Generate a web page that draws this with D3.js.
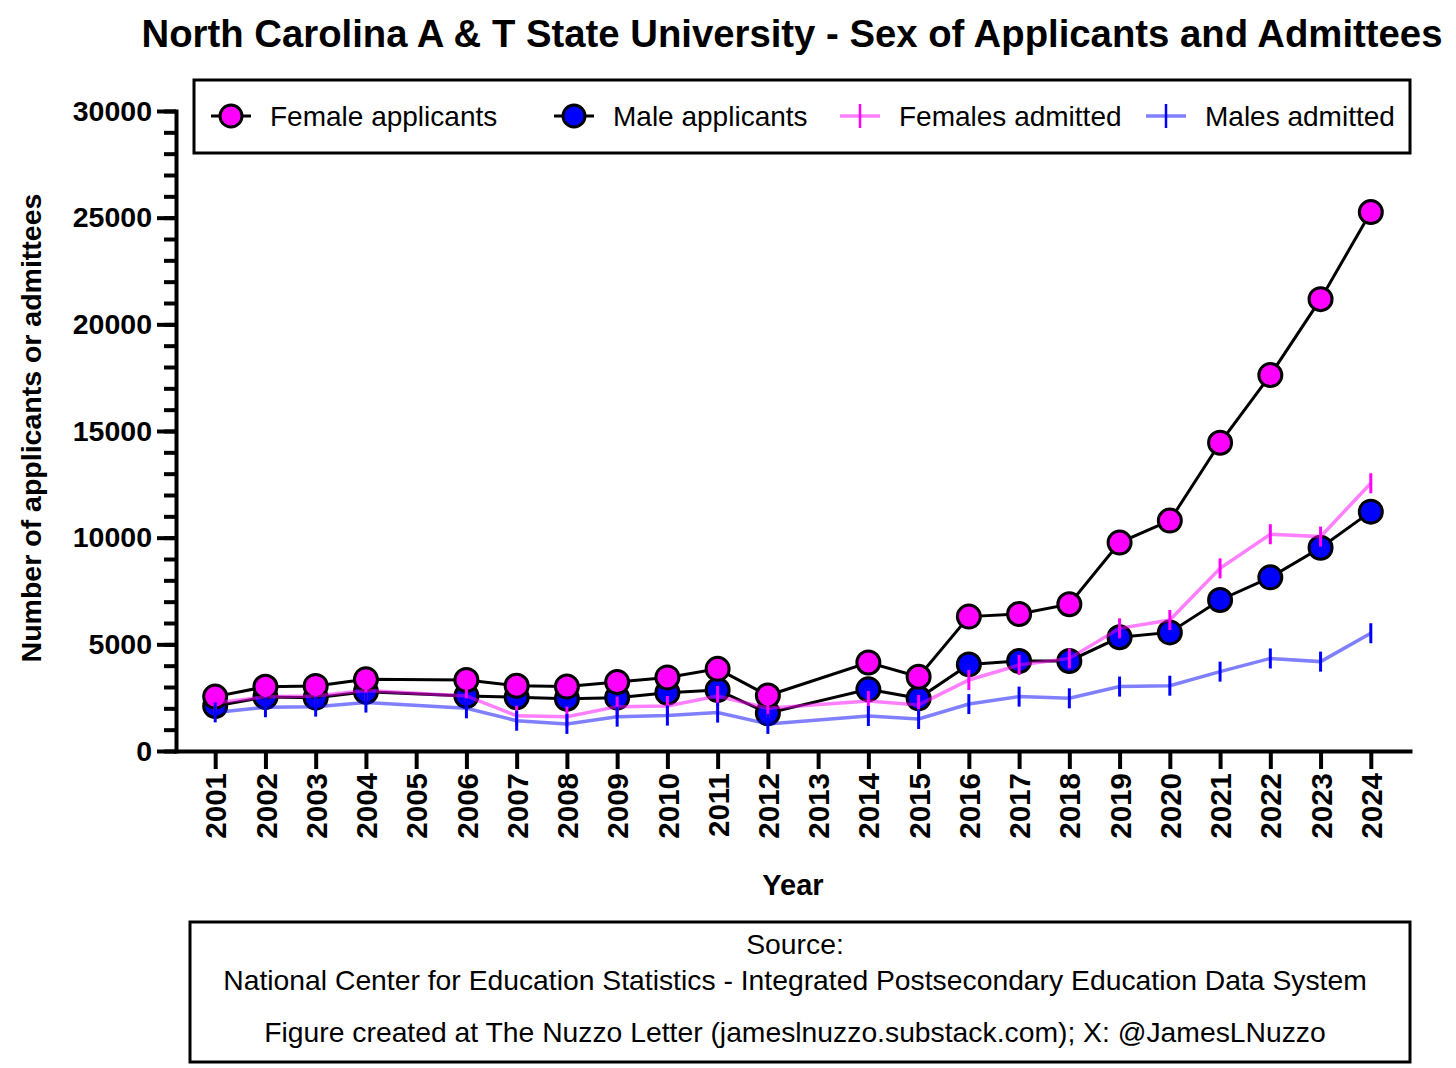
<!DOCTYPE html>
<meta charset="utf-8">
<html>
<style>
 body { margin:0; background:#fff; }
 svg { display:block; font-family: "Liberation Sans", Arial, sans-serif; }
</style>
<script src="https://d3js.org/d3.v7.min.js"></script>
<svg width="1456" height="1068"></svg>
<script>
// values; null = year not reported
const years = [2001,2002,2003,2004,2005,2006,2007,2008,2009,2010,2011,2012,
               2013,2014,2015,2016,2017,2018,2019,2020,2021,2022,2023,2024];
const femaleApplicants = [2550,3010,3050,3360,null,3330,3060,3020,3230,3450,3850,2600,
                          null,4150,3480,6300,6420,6880,9770,10800,14450,17620,21180,25260];
const maleApplicants   = [2110,2530,2500,2780,null,2580,2520,2450,2500,2730,2860,1770,
                          null,2890,2470,4060,4220,4220,5330,5560,7080,8140,9530,11220];
const femalesAdmitted  = [2250,2540,2580,2830,null,2580,1650,1610,2080,2110,2580,2000,
                          null,2340,2160,3330,4030,4340,5750,6140,8560,10160,10050,12550];
const malesAdmitted    = [1810,2050,2080,2270,null,2000,1420,1270,1610,1660,1800,1270,
                          null,1640,1500,2200,2550,2470,3020,3060,3720,4340,4190,5520];
const yMajorTicks = [0,5000,10000,15000,20000,25000,30000];
const yMinorTicks = d3.range(0, 30001, 1000);

const svg = d3.select('svg');

const x = d3.scalePoint()
	.domain(years)
	.range([176,1410])
	.padding(0.78);
const y = d3.scaleLinear()
	.domain([0,30000])
	.range([751,111]);

// title
svg.append('text')
	.attr('x',792)
	.attr('y',47)
	.attr('text-anchor','middle')
	.attr('font-size',38.3)
	.attr('font-weight','bold')
	.text('North Carolina A & T State University - Sex of Applicants and Admittees');

// axes
const minorAxis = d3.axisLeft(y).tickValues(yMinorTicks).tickSize(12).tickSizeOuter(0).tickFormat('');
svg.append('g')
	.attr('transform','translate(176,0)')
	.call(minorAxis)
	.call(g=>g.select('.domain').remove())
	.call(g=>g.selectAll('line').attr('stroke-width',4));

const yAxis = d3.axisLeft(y).tickValues(yMajorTicks).tickSize(19).tickSizeOuter(0)
	.tickPadding(5).tickFormat(d3.format('d'));
svg.append('g')
	.attr('transform','translate(176,0)')
	.call(yAxis)
	.call(g=>g.select('.domain').attr('stroke-width',4).attr('stroke-linecap','square'))
	.call(g=>g.selectAll('line').attr('stroke-width',4))
	.call(g=>g.selectAll('text')
		.attr('font-size',28.5)
		.attr('font-weight','bold')
		.attr('font-family','"Liberation Sans", Arial, sans-serif')
		.attr('fill','#000'));

const xAxis = d3.axisBottom(x).tickSize(18).tickSizeOuter(0);
svg.append('g')
	.attr('transform','translate(0,751)')
	.call(xAxis)
	.call(g=>g.select('.domain').attr('stroke-width',4).attr('stroke-linecap','square'))
	.call(g=>g.selectAll('line').attr('stroke-width',4))
	.call(g=>g.selectAll('text')
		.attr('font-size',29.5)
		.attr('font-weight','bold')
		.attr('font-family','"Liberation Sans", Arial, sans-serif')
		.attr('fill','#000')
		.attr('transform','rotate(-90)')
		.attr('text-anchor','end')
		.attr('x',-22)
		.attr('y',0)
		.attr('dy','0.36em'));

// axis titles
svg.append('text')
	.attr('transform','translate(41,428) rotate(-90)')
	.attr('text-anchor','middle')
	.attr('font-size',28.5)
	.attr('font-weight','bold')
	.text('Number of applicants or admittees');
svg.append('text')
	.attr('x',793)
	.attr('y',895)
	.attr('text-anchor','middle')
	.attr('font-size',29)
	.attr('font-weight','bold')
	.text('Year');

const points = vals => years.map((yr,i)=>({yr:yr, v:vals[i]})).filter(d=>d.v !== null);
const line = d3.line().x(d=>x(d.yr)).y(d=>y(d.v));

const applicants = [
	{vals:femaleApplicants, fill:'#ff00ff'},
	{vals:maleApplicants, fill:'#0000ff'}
];
const admitted = [
	{vals:femalesAdmitted, color:'#ff00ff'},
	{vals:malesAdmitted, color:'#0000ff'}
];

applicants.forEach(s=>{
	svg.append('path')
		.attr('d',line(points(s.vals)))
		.attr('fill','none')
		.attr('stroke','#000')
		.attr('stroke-width',3);
});
applicants.slice().reverse().forEach(s=>{
	svg.append('g').selectAll('circle')
		.data(points(s.vals))
		.join('circle')
		.attr('cx',d=>x(d.yr))
		.attr('cy',d=>y(d.v))
		.attr('r',11.5)
		.attr('fill',s.fill)
		.attr('stroke','#000')
		.attr('stroke-width',3);
});
admitted.forEach(s=>{
	svg.append('path')
		.attr('d',line(points(s.vals)))
		.attr('fill','none')
		.attr('stroke',s.color)
		.attr('stroke-opacity',0.5)
		.attr('stroke-width',3.5);
	svg.append('g').selectAll('line')
		.data(points(s.vals))
		.join('line')
		.attr('x1',d=>x(d.yr))
		.attr('x2',d=>x(d.yr))
		.attr('y1',d=>y(d.v)-10)
		.attr('y2',d=>y(d.v)+10)
		.attr('stroke',s.color)
		.attr('stroke-width',3);
});

// legend
svg.append('rect')
	.attr('x',194).attr('y',80)
	.attr('width',1216).attr('height',73)
	.attr('fill','none').attr('stroke','#000').attr('stroke-width',3);

const legendItems = [
	{label:'Female applicants', kind:'circle', color:'#ff00ff', cx:231},
	{label:'Male applicants', kind:'circle', color:'#0000ff', cx:574},
	{label:'Females admitted', kind:'tick', color:'#ff00ff', cx:860},
	{label:'Males admitted', kind:'tick', color:'#0000ff', cx:1166}
];
const ly = 116;
legendItems.forEach(d=>{
	const g = svg.append('g');
	if (d.kind === 'circle'){
		g.append('line')
			.attr('x1',d.cx-20).attr('x2',d.cx+20)
			.attr('y1',ly).attr('y2',ly)
			.attr('stroke','#000').attr('stroke-width',3);
		g.append('circle')
			.attr('cx',d.cx).attr('cy',ly).attr('r',11)
			.attr('fill',d.color).attr('stroke','#000').attr('stroke-width',3);
	} else {
		g.append('line')
			.attr('x1',d.cx-20).attr('x2',d.cx+20)
			.attr('y1',ly).attr('y2',ly)
			.attr('stroke',d.color).attr('stroke-opacity',0.5).attr('stroke-width',3.5);
		g.append('line')
			.attr('x1',d.cx).attr('x2',d.cx)
			.attr('y1',ly-12).attr('y2',ly+12)
			.attr('stroke',d.color).attr('stroke-width',2.5);
	}
	g.append('text')
		.attr('x',d.cx+39)
		.attr('y',ly+10)
		.attr('font-size',28)
		.text(d.label);
});

// source box
svg.append('rect')
	.attr('x',190).attr('y',922)
	.attr('width',1220).attr('height',140)
	.attr('fill','none').attr('stroke','#000').attr('stroke-width',3);
const sourceLines = [
	{t:'Source:', y:954},
	{t:'National Center for Education Statistics - Integrated Postsecondary Education Data System', y:990},
	{t:'Figure created at The Nuzzo Letter (jameslnuzzo.substack.com); X: @JamesLNuzzo', y:1042}
];
svg.append('g').selectAll('text')
	.data(sourceLines)
	.join('text')
	.attr('x',795)
	.attr('y',d=>d.y)
	.attr('text-anchor','middle')
	.attr('font-size',28.3)
	.text(d=>d.t);
</script>
</html>
